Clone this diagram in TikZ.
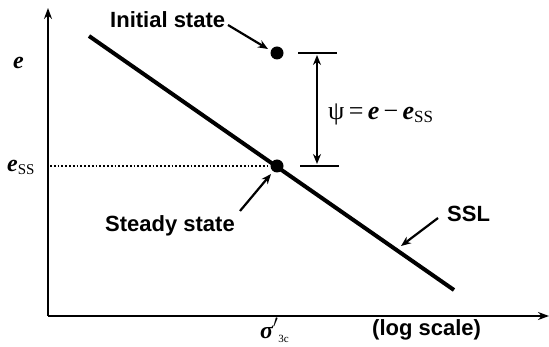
\documentclass[tikz,border=0pt]{standalone}
\usepackage{fontspec}
\setmainfont{Liberation Sans}
\newfontfamily\tms{Liberation Serif}
\usetikzlibrary{arrows.meta}
\begin{document}
\begin{tikzpicture}[x=1pt,y=-1pt,
  lbl/.style={font=\fontsize{22}{24}\selectfont\bfseries, inner sep=0pt},
  mlbl/.style={font=\tms\fontsize{24}{26}\selectfont, inner sep=0pt},
  ax/.style={line width=2.4pt, -{Stealth[length=11pt,width=8pt]}},
  pt/.style={circle, fill=black, minimum size=13pt, inner sep=0pt},
  arr/.style={line width=2.2pt, -{Stealth[length=10pt,width=8pt]}}]
\useasboundingbox (0,0) rectangle (549,347);
% axes
\coordinate (O) at (48,316);
\coordinate (Ytop) at (48,8);
\coordinate (Xend) at (549,316);
\draw[ax] (O) -- (Ytop);
\draw[ax] (O) -- (Xend);
% SSL
\coordinate (S1) at (89,36);
\coordinate (S2) at (454,290);
\draw[line width=4pt] (S1) -- (S2);
% points
\node[pt] (ss) at (277,166) {};
\node[pt] (init) at (277,53) {};
% dotted
\coordinate (dl) at (50,166);
\draw[dotted, line width=1.8pt] (dl) -- (ss);
% bracket
\coordinate (t1) at (298,53); \coordinate (t2) at (337,53);
\coordinate (b1) at (300,166); \coordinate (b2) at (339,166);
\draw[line width=1.8pt] (t1) -- (t2);
\draw[line width=1.8pt] (b1) -- (b2);
\coordinate (va) at (317,55); \coordinate (vb) at (317,164);
\draw[line width=2pt, {Stealth[length=10pt,width=8pt]}-{Stealth[length=10pt,width=8pt]}] (va) -- (vb);
\node[mlbl, font=\tms\fontsize{26}{28}\selectfont, anchor=base west] (psi) at (328,120) {ψ\,=\,{\bfseries\itshape e}\,\textminus\,{\bfseries\itshape e}\raisebox{-3pt}{\fontsize{17}{18}\selectfont SS}};
% labels
\node[mlbl, anchor=base west] (e) at (13,69) {\bfseries\itshape e};
\node[mlbl, anchor=base west] (ess) at (7,172) {{\bfseries\itshape e}\raisebox{-3pt}{\fontsize{15}{16}\selectfont SS}};
\node[mlbl, anchor=base west] (sig) at (260,339) {{\bfseries\itshape σ}\raisebox{2pt}{$'$}\raisebox{-3pt}{\fontsize{11}{12}\selectfont 3c}};
\node[lbl, anchor=base west] (log) at (372,336) {(log scale)};
\node[lbl, anchor=base west] (initl) at (110,28) {Initial state};
\node[lbl, anchor=base west] (steady) at (105,232) {Steady state};
\node[lbl, anchor=base west] (ssl) at (447,222) {SSL};
% arrows
\coordinate (ia) at (228,25); \coordinate (ib) at (268,49);
\draw[arr] (ia) -- (ib);
\coordinate (sa) at (240,211); \coordinate (sb) at (271,174);
\draw[arr] (sa) -- (sb);
\coordinate (la) at (438,218); \coordinate (lb) at (401,246);
\draw[arr] (la) -- (lb);
\end{tikzpicture}
\end{document}
